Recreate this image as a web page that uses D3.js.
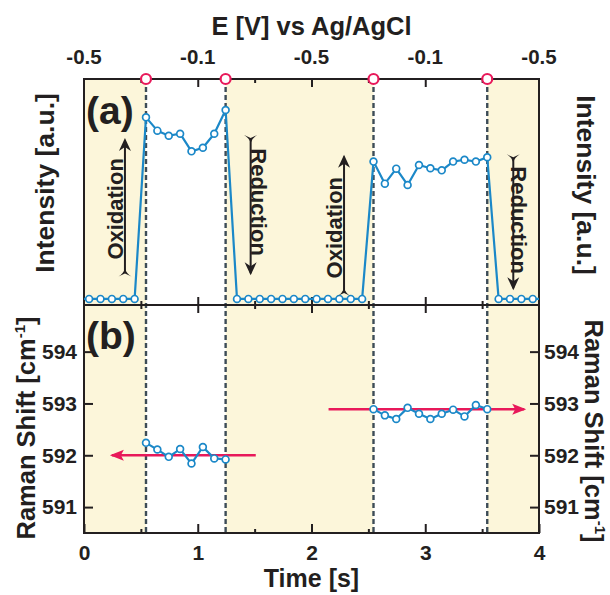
<!DOCTYPE html>
<html>
<head>
<meta charset="utf-8">
<script src="https://cdn.jsdelivr.net/npm/d3@7"></script>
<style>
  html, body { margin: 0; padding: 0; background: #fff; }
  svg { display: block; }
</style>
</head>
<body>
<div id="chart"></div>
<script>
// ---- data ----
const time = [-0.055, 0.045, 0.145, 0.245, 0.345, 0.445, 0.545, 0.645, 0.745, 0.845,
  0.945, 1.045, 1.145, 1.245, 1.345, 1.445, 1.545, 1.645, 1.745, 1.845, 1.945, 2.045,
  2.145, 2.245, 2.345, 2.445, 2.545, 2.645, 2.745, 2.845, 2.945, 3.045, 3.145, 3.245,
  3.345, 3.445, 3.545, 3.645, 3.745, 3.845, 3.945, 4.045];
const intensity = [0, 0, 0, 0, 0, 0, 0.956, 0.886, 0.859, 0.870, 0.777, 0.796, 0.870, 0.995,
  0, 0, 0, 0, 0, 0, 0, 0, 0, 0, 0, 0,
  0.723, 0.607, 0.686, 0.600, 0.705, 0.688, 0.677, 0.723, 0.733, 0.723, 0.746,
  0, 0, 0, 0, 0];

const ramanTime1 = [0.545, 0.645, 0.745, 0.845, 0.945, 1.045, 1.145, 1.245];
const ramanShift1 = [592.24, 592.11, 591.97, 592.12, 591.84, 592.16, 591.94, 591.92];
const ramanTime2 = [2.545, 2.645, 2.745, 2.845, 2.945, 3.045, 3.145, 3.245, 3.345, 3.445, 3.545];
const ramanShift2 = [592.89, 592.77, 592.70, 592.915, 592.80, 592.70, 592.80, 592.88, 592.75, 592.97, 592.89];

// potential switching times (dashed lines / red circles)
const switchTimes = [0.545, 1.245, 2.545, 3.545];
// shaded (yellow) time spans
const shadeSpans = [[0, 0.545], [1.245, 2.545], [3.545, 4]];

const timeTicks = [0, 1, 2, 3, 4];
const timeMinor = [0.5, 1.5, 2.5, 3.5];
const potentialLabels = ["-0.5", "-0.1", "-0.5", "-0.1", "-0.5"];
const ramanTicks = [591, 592, 593, 594];

// black arrows in (a): [time, from, to]
const blackArrows = [[0.36, 0.144, 0.837], [1.465, 0.837, 0.135], [2.286, 0.042, 0.749], [3.774, 0.735, 0.056]];
// arrow captions: [text, time of baseline, intensity centre, rotation]
const captions = [["Oxidation", 0.345, 0.474, -90], ["Reduction", 1.47, 0.51, 90],
  ["Oxidation", 2.27, 0.375, -90], ["Reduction", 3.755, 0.415, 90]];
// red arrows in (b): [from, to, raman shift]
const redArrows = [[1.51, 0.245, 592.0], [2.15, 3.87, 592.89]];

// ---- layout ----
const width = 610, height = 595;
const margin = { left: 84, right: 71 };
const topA = 79, sep = 305, botB = 533;
const ink = "#231f20", blue = "#1b88c8", red = "#e8195a", shade = "#fcf6da";
const FONT = "'Liberation Sans', Arial, sans-serif";

const svg = d3.select("#chart").append("svg")
  .attr("width", width).attr("height", height)
  .style("background-color", "#fff");

const x = d3.scaleLinear().domain([0, 4]).range([margin.left, width - margin.right]);
const yA = d3.scaleLinear().domain([-0.032, 1.158]).range([sep, topA]);
const yB = d3.scaleLinear().domain([590.5, 594.9]).range([botB, sep]);

const defs = svg.append("defs");
defs.append("clipPath").attr("id", "clipA").append("rect")
  .attr("x", x(0)).attr("y", topA).attr("width", x(4) - x(0)).attr("height", sep - topA);

defs.append("marker").attr("id", "headK")
  .attr("viewBox", "-14 -8 18 16").attr("markerUnits", "userSpaceOnUse")
  .attr("markerWidth", 18).attr("markerHeight", 16).attr("refX", 0).attr("refY", 0)
  .attr("orient", "auto")
  .append("path").attr("d", "M2,0 L-11,-6 L-7,0 L-11,6 Z").attr("fill", ink);
defs.append("marker").attr("id", "tailK")
  .attr("viewBox", "-8 -8 14 16").attr("markerUnits", "userSpaceOnUse")
  .attr("markerWidth", 14).attr("markerHeight", 16).attr("refX", 0).attr("refY", 0)
  .attr("orient", "auto")
  .append("path").attr("d", "M3,0 Q-2,-1.5 -5,-6.5 L-2,0 L-5,6.5 Q-2,1.5 3,0 Z").attr("fill", ink);
defs.append("marker").attr("id", "headR")
  .attr("viewBox", "-15 -7 18 14").attr("markerUnits", "userSpaceOnUse")
  .attr("markerWidth", 18).attr("markerHeight", 14).attr("refX", 0).attr("refY", 0)
  .attr("orient", "auto")
  .append("path").attr("d", "M2,0 L-12,-5.5 L-9,0 L-12,5.5 Z").attr("fill", red);

// shaded spans, both panels
svg.append("g").selectAll("rect").data(shadeSpans).join("rect")
  .attr("x", d => x(d[0])).attr("width", d => x(d[1]) - x(d[0]))
  .attr("y", topA).attr("height", botB - topA)
  .attr("fill", shade);

// dashed switching lines
svg.append("g").selectAll("line").data(switchTimes).join("line")
  .attr("x1", d => x(d)).attr("x2", d => x(d))
  .attr("y1", topA).attr("y2", botB)
  .attr("stroke", "#3d4c57").attr("stroke-width", 2.4)
  .attr("stroke-dasharray", "5,3");

// ---- axes ----
function styleAxis(g) {
  g.select(".domain").remove();
  g.selectAll(".tick line").attr("stroke", ink).attr("stroke-width", 2);
  g.selectAll(".tick text").attr("fill", ink).attr("font-family", FONT)
    .attr("font-weight", "bold").attr("font-size", 21);
}

const blank = () => "";
// bottom axis of (b)
svg.append("g").attr("transform", `translate(0,${botB})`)
  .call(d3.axisBottom(x).tickValues(timeTicks).tickSize(-9).tickPadding(12).tickFormat(d3.format("d")))
  .call(styleAxis);
svg.append("g").attr("transform", `translate(0,${botB})`)
  .call(d3.axisBottom(x).tickValues(timeMinor).tickSize(-4).tickFormat(blank)).call(styleAxis);
// top axis of (a) - potential
svg.append("g").attr("transform", `translate(0,${topA})`)
  .call(d3.axisTop(x).tickValues(timeTicks.slice(1, 4)).tickSize(-8).tickFormat(blank)).call(styleAxis);
svg.append("g").attr("transform", `translate(0,${topA})`)
  .call(d3.axisTop(x).tickValues(timeMinor).tickSize(-4).tickFormat(blank)).call(styleAxis);
svg.append("g").selectAll("text").data(timeTicks).join("text")
  .attr("x", d => x(d)).attr("y", 64)
  .attr("text-anchor", "middle").attr("fill", ink)
  .attr("font-family", FONT).attr("font-weight", "bold").attr("font-size", 20.5)
  .text((d, i) => potentialLabels[i]);
// separator ticks
[[d3.axisTop, timeTicks.slice(1, 4), 8], [d3.axisBottom, timeTicks.slice(1, 4), 8],
 [d3.axisTop, timeMinor, 4], [d3.axisBottom, timeMinor, 4]].forEach(([ax, vals, len]) => {
  svg.append("g").attr("transform", `translate(0,${sep})`)
    .call(ax(x).tickValues(vals).tickSize(-len).tickFormat(blank)).call(styleAxis);
});
// raman axes, left and right
svg.append("g").attr("transform", `translate(${x(0)},0)`)
  .call(d3.axisLeft(yB).tickValues(ramanTicks).tickSize(-9).tickPadding(7).tickFormat(d3.format("d")))
  .call(styleAxis);
svg.append("g").attr("transform", `translate(${x(4)},0)`)
  .call(d3.axisRight(yB).tickValues(ramanTicks).tickSize(-9).tickPadding(5).tickFormat(d3.format("d")))
  .call(styleAxis);

// frames
svg.append("g").attr("fill", "none").attr("stroke", ink).attr("stroke-width", 2)
  .selectAll("rect").data([[topA, sep], [sep, botB]]).join("rect")
  .attr("x", x(0)).attr("y", d => d[0])
  .attr("width", x(4) - x(0)).attr("height", d => d[1] - d[0]);

// ---- panel (a) intensity ----
const lineA = d3.line().x((d, i) => x(time[i])).y(d => yA(d));
const gA = svg.append("g").attr("clip-path", "url(#clipA)");
gA.append("path").datum(intensity)
  .attr("d", lineA).attr("fill", "none")
  .attr("stroke", blue).attr("stroke-width", 2.2).attr("stroke-linejoin", "round");
gA.selectAll("circle").data(intensity).join("circle")
  .attr("cx", (d, i) => x(time[i])).attr("cy", d => yA(d)).attr("r", 3.4)
  .attr("fill", "#fff").attr("stroke", blue).attr("stroke-width", 1.7);

// black arrows and captions
svg.append("g").selectAll("line").data(blackArrows).join("line")
  .attr("x1", d => x(d[0])).attr("x2", d => x(d[0]))
  .attr("y1", d => yA(d[1])).attr("y2", d => yA(d[2]))
  .attr("stroke", ink).attr("stroke-width", 2)
  .attr("marker-end", "url(#headK)").attr("marker-start", "url(#tailK)");
svg.append("g").selectAll("text").data(captions).join("text")
  .attr("transform", d => `translate(${x(d[1])},${yA(d[2])}) rotate(${d[3]})`)
  .attr("text-anchor", "middle").attr("fill", ink)
  .attr("font-family", FONT).attr("font-weight", "bold").attr("font-size", 22)
  .text(d => d[0]);

// red open circles on the top axis
svg.append("g").selectAll("circle").data(switchTimes).join("circle")
  .attr("cx", d => x(d)).attr("cy", topA).attr("r", 5)
  .attr("fill", "#fff").attr("stroke", red).attr("stroke-width", 2.2);

// ---- panel (b) raman shift ----
svg.append("g").selectAll("line").data(redArrows).join("line")
  .attr("x1", d => x(d[0])).attr("x2", d => x(d[1]))
  .attr("y1", d => yB(d[2])).attr("y2", d => yB(d[2]))
  .attr("stroke", red).attr("stroke-width", 2.5)
  .attr("marker-end", "url(#headR)");

[[ramanTime1, ramanShift1], [ramanTime2, ramanShift2]].forEach(([ts, vs]) => {
  const g = svg.append("g");
  g.append("path").datum(vs)
    .attr("d", d3.line().x((d, i) => x(ts[i])).y(d => yB(d)))
    .attr("fill", "none").attr("stroke", blue).attr("stroke-width", 2.2)
    .attr("stroke-linejoin", "round");
  g.selectAll("circle").data(vs).join("circle")
    .attr("cx", (d, i) => x(ts[i])).attr("cy", d => yB(d)).attr("r", 3.4)
    .attr("fill", "#fff").attr("stroke", blue).attr("stroke-width", 1.7);
});

// panel letters
svg.append("g").selectAll("text").data([["(a)", 124], ["(b)", 349]]).join("text")
  .attr("x", 86).attr("y", d => d[1])
  .attr("fill", ink).attr("font-family", FONT).attr("font-weight", "bold").attr("font-size", 39)
  .text(d => d[0]);

// ---- axis titles ----
const title = (txt, tx, ty, rot, size) => svg.append("text")
  .attr("transform", `translate(${tx},${ty}) rotate(${rot})`)
  .attr("text-anchor", "middle").attr("fill", ink)
  .attr("font-family", FONT).attr("font-weight", "bold").attr("font-size", size)
  .text(txt);

title("E [V] vs Ag/AgCl", x(2), 35, 0, 25.5);
title("Time [s]", x(2), 587, 0, 25);
title("Intensity [a.u.]", 54, 183, -90, 26.5);
title("Intensity [a.u.]", 577, 185, 90, 26.5);

function ramanTitle(tx, ty, rot) {
  const t = title("", tx, ty, rot, 25.5);
  t.append("tspan").text("Raman Shift [cm");
  t.append("tspan").attr("font-size", 15).attr("dy", -10).text("-1");
  t.append("tspan").attr("dy", 10).text("]");
}
ramanTitle(35, 428, -90);
ramanTitle(585, 431, 90);
</script>
</body>
</html>
